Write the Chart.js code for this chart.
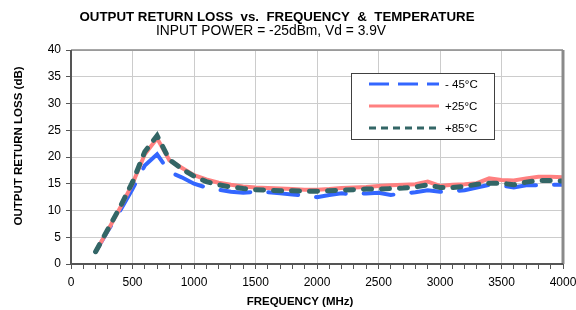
<!DOCTYPE html>
<html>
<head>
<meta charset="utf-8">
<script src="https://cdn.jsdelivr.net/npm/chart.js@4"></script>
<style>
  html, body { margin: 0; padding: 0; background: #fff; }
  #wrap { width: 576px; height: 310px; }
</style>
</head>
<body>
<div id="wrap"><canvas id="rlChart" width="576" height="310"></canvas></div>
<script>
// =============================
// DATA
// =============================
const freqMHz = [200, 300, 400, 500, 600, 700, 800, 900, 1000, 1100, 1200, 1300, 1400, 1500,
  1600, 1700, 1800, 1900, 2000, 2100, 2200, 2300, 2400, 2500, 2600, 2700, 2800, 2900,
  3000, 3100, 3200, 3300, 3400, 3500, 3600, 3700, 3800, 3900, 4000];

const rlMinus45 = [2.3, 6.2, 10.0, 14.0, 18.4, 20.5, 17.2, 16.2, 15.0, 14.3, 13.9, 13.5, 13.3, 13.5,
  13.4, 13.2, 13.0, 12.8, 12.5, 12.9, 13.2, 13.0, 13.2, 13.3, 12.9, 13.2, 13.4, 13.8,
  13.5, 13.6, 13.8, 14.3, 14.8, 14.7, 14.3, 14.7, 14.7, 14.8, 14.8];

const rlPlus25 = [2.3, 6.3, 10.5, 15.0, 20.5, 23.5, 19.4, 18.0, 16.6, 15.8, 15.2, 14.8, 14.5, 14.3,
  14.2, 14.1, 14.0, 13.9, 13.9, 14.0, 14.2, 14.3, 14.4, 14.6, 14.7, 14.8, 14.9, 15.4,
  14.6, 14.8, 14.9, 15.1, 16.0, 15.7, 15.6, 16.0, 16.3, 16.3, 16.2];

const rlPlus85 = [2.3, 6.5, 10.7, 15.3, 21.0, 24.0, 19.5, 17.8, 16.4, 15.4, 14.8, 14.4, 14.1, 13.9,
  13.8, 13.7, 13.7, 13.6, 13.6, 13.7, 13.8, 13.9, 14.0, 14.0, 14.1, 14.2, 14.4, 14.8,
  14.3, 14.3, 14.5, 14.9, 15.1, 15.1, 14.8, 15.3, 15.6, 15.6, 15.5];

const seriesLabels = ["- 45°C", "+25°C", "+85°C"];
const yTicks = [0, 5, 10, 15, 20, 25, 30, 35, 40];
const xLabelStep = 500;

const toPoints = vals => vals.map((v, i) => ({ x: freqMHz[i], y: v }));

// =============================
// Titles, box and legend (drawn on canvas)
// =============================
const legendDash = [[20, 9], [], [7, 5]];

const decorPlugin = {
  id: "decor",
  beforeDraw(chart) {
    const c = chart.ctx;
    c.save();
    c.fillStyle = "#fff";
    c.fillRect(0, 0, chart.width, chart.height);
    c.fillStyle = "#000";
    c.textAlign = "center";
    c.textBaseline = "middle";
    c.font = "bold 13.3px 'Liberation Sans', Arial, sans-serif";
    c.fillText("OUTPUT RETURN LOSS  vs.  FREQUENCY  &  TEMPERATURE", 277, 17);
    c.font = "13.8px 'Liberation Sans', Arial, sans-serif";
    c.fillText("INPUT POWER = -25dBm, Vd = 3.9V", 271, 31);
    c.font = "bold 11.5px 'Liberation Sans', Arial, sans-serif";
    c.fillText("FREQUENCY (MHz)", 300, 302);
    c.translate(19, 146);
    c.rotate(-Math.PI / 2);
    c.fillText("OUTPUT RETURN LOSS (dB)", 0, 0);
    c.restore();
  },
  afterDatasetsDraw(chart) {
    const c = chart.ctx;
    const a = chart.chartArea;
    c.save();
    // plot frame
    c.strokeStyle = "#8a8a8a";
    c.lineWidth = 1.5;
    c.beginPath();
    c.moveTo(a.left, a.top);
    c.lineTo(a.right, a.top);
    c.stroke();
    c.lineWidth = 3;
    c.beginPath();
    c.moveTo(a.right, a.top);
    c.lineTo(a.right, a.bottom);
    c.stroke();
    c.strokeStyle = "#555";
    c.lineWidth = 2;
    c.beginPath();
    c.moveTo(a.left, a.top);
    c.lineTo(a.left, a.bottom);
    c.lineTo(a.right, a.bottom);
    c.stroke();

    // legend
    c.fillStyle = "#fff";
    c.fillRect(351, 73, 143, 66);
    c.strokeStyle = "#404040";
    c.lineWidth = 1;
    c.strokeRect(351.5, 73.5, 143, 66);
    c.font = "11.5px 'Liberation Sans', Arial, sans-serif";
    c.textAlign = "left";
    c.textBaseline = "middle";
    chart.data.datasets.forEach((ds, i) => {
      const y = 84 + i * 22;
      c.strokeStyle = ds.borderColor;
      c.lineWidth = 3;
      c.setLineDash(legendDash[i]);
      c.beginPath();
      c.moveTo(369, y);
      c.lineTo(439, y);
      c.stroke();
      c.setLineDash([]);
      c.fillStyle = "#000";
      c.fillText(ds.label, 445, y + 1);
    });
    c.restore();
  }
};

// =============================
// Chart
// =============================
new Chart(document.getElementById("rlChart"), {
  type: "line",
  data: {
    datasets: [
      {
        label: seriesLabels[0],
        data: toPoints(rlMinus45),
        borderColor: "#3366ff",
        borderWidth: 4,
        borderDash: [30, 18],
        borderCapStyle: "round",
        order: 3
      },
      {
        label: seriesLabels[1],
        data: toPoints(rlPlus25),
        borderColor: "#ff8080",
        borderWidth: 4,
        order: 2
      },
      {
        label: seriesLabels[2],
        data: toPoints(rlPlus85),
        borderColor: "#336666",
        borderWidth: 5,
        borderDash: [8, 10],
        borderCapStyle: "round",
        order: 1
      }
    ]
  },
  options: {
    responsive: false,
    animation: false,
    events: [],
    layout: { padding: { top: 50, right: 13, left: 0, bottom: 0 } },
    elements: { point: { radius: 0 }, line: { tension: 0, fill: false } },
    plugins: { legend: { display: false }, tooltip: { enabled: false } },
    scales: {
      x: {
        type: "linear",
        min: 0,
        max: 4000,
        afterFit(s) { s.height = 46; s.paddingLeft = 0; s.paddingRight = 0; },
        ticks: {
          stepSize: 100,
          autoSkip: false,
          maxTicksLimit: 100,
          maxRotation: 0,
          padding: 6,
          color: "#000",
          font: { family: "'Liberation Sans', Arial, sans-serif", size: 12 },
          callback: v => (v % xLabelStep === 0 ? String(v) : "")
        },
        grid: {
          color: ctx => (ctx.tick && ctx.tick.value % xLabelStep === 0 ? "#cccccc" : "rgba(0,0,0,0)"),
          tickColor: "#555",
          tickLength: 5,
          lineWidth: 1
        },
        border: { display: false }
      },
      y: {
        min: 0,
        max: 40,
        afterFit(s) { s.width = 71; },
        afterBuildTicks(s) { s.ticks = yTicks.map(v => ({ value: v })); },
        ticks: {
          padding: 5,
          color: "#000",
          font: { family: "'Liberation Sans', Arial, sans-serif", size: 12 }
        },
        grid: {
          color: "#cccccc",
          tickColor: "#555",
          tickLength: 5,
          lineWidth: 1
        },
        border: { display: false }
      }
    }
  },
  plugins: [decorPlugin]
});
</script>
</body>
</html>
